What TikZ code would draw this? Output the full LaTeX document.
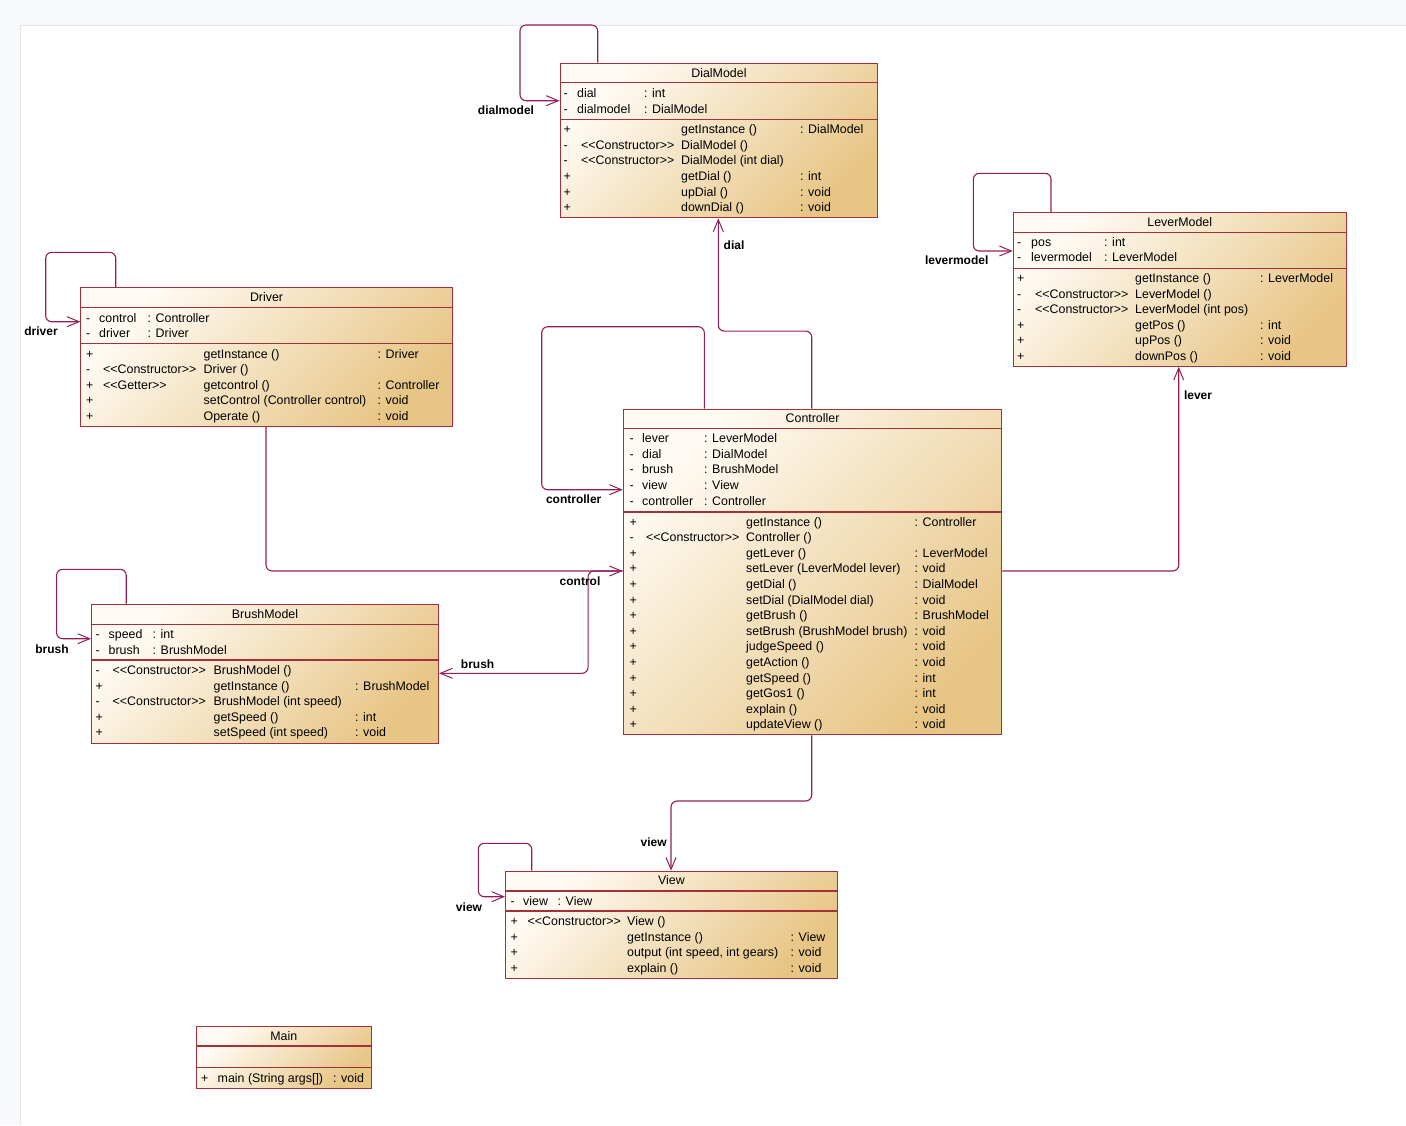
\documentclass[tikz,border=0pt]{standalone}
\usepackage{fontspec}
\newfontfamily\umlfont{Liberation Sans}
\usepackage{tikz}
\usetikzlibrary{arrows.meta}
\definecolor{pagebg}{HTML}{F7F9FC}
\definecolor{umlLight}{HTML}{FFFBF4}
\definecolor{umlDark}{HTML}{E7C585}
\definecolor{umlborder}{HTML}{A5303A}
\definecolor{connred}{HTML}{921F58}

\begin{document}
\begin{tikzpicture}[x=1pt, y=-1pt,
    umlclass/.style={draw=umlborder, line width=1.1pt, left color=umlLight, right color=umlDark, shading angle=45, anchor=north west, inner sep=0pt},
    umlsep/.style={draw=umlborder, line width=1.1pt},
    umltxt/.style={anchor=west, inner sep=0pt, text height=8.8pt, text depth=0pt, font=\umlfont\fontsize{12.4}{14}\selectfont},
    umltitle/.style={umltxt, anchor=center},
    conn/.style={draw=connred, line width=1.1pt, rounded corners=6pt},
    navarrow/.style={-{Straight Barb[length=12pt,width=10pt,line width=1pt]}},
    rolelbl/.style={inner sep=0pt, font=\umlfont\bfseries\fontsize{12}{14}\selectfont}]

    \useasboundingbox (0,0) rectangle (1406,1125);
    \fill[pagebg] (0,0) rectangle (1406,1125);
    \fill[white] (20,25) rectangle (1406,1125);
    \draw[black!10] (20,1125) -- (20,25) -- (1406,25);

    % classes
    \node[umlclass, minimum width=317.8pt, minimum height=154.6pt] (dial) at (559.5,62.7) {};
    \node[umlclass, minimum width=333pt, minimum height=153.7pt] (lever) at (1012.7,212) {};
    \node[umlclass, minimum width=371.4pt, minimum height=138.7pt] (driver) at (80.3,287.3) {};
    \node[umlclass, minimum width=378.6pt, minimum height=325.6pt] (ctrl) at (622.7,408.7) {};
    \node[umlclass, minimum width=347pt, minimum height=139pt] (brush) at (91,603.7) {};
    \node[umlclass, minimum width=331.7pt, minimum height=107.3pt] (view) at (505,870.7) {};
    \node[umlclass, minimum width=175pt, minimum height=62pt] (mainc) at (195.7,1025.7) {};

    % compartments
    \foreach \c/\ya/\yb in {dial/82.7/119.3, lever/232.3/268.3, driver/307.3/343.3, ctrl/428.7/512, brush/624.3/660, view/891/911, mainc/1046/1067.3}{
        \draw[umlsep] (\c.west |- 0,\ya) -- (\c.east |- 0,\ya);
        \draw[umlsep] (\c.west |- 0,\yb) -- (\c.east |- 0,\yb);
    }

    % titles
    \node[umltitle] (dial-t) at (dial.north |- 0,72.7) {DialModel};
    \node[umltitle] (lever-t) at (lever.north |- 0,222) {LeverModel};
    \node[umltitle] (driver-t) at (driver.north |- 0,297.3) {Driver};
    \node[umltitle] (ctrl-t) at (ctrl.north |- 0,418.5) {Controller};
    \node[umltitle] (brush-t) at (brush.north |- 0,613.7) {BrushModel};
    \node[umltitle] (view-t) at (view.north |- 0,880.3) {View};
    \node[umltitle] (mainc-t) at (mainc.north |- 0,1036) {Main};

    % DialModel
    \foreach \vis/\attr/\typ [count=\i from 0] in {-/dial/: int, -/dialmodel/: DialModel}{
        \node[umltxt] (dial-a\i-v) at (563.5,{93+15.6*\i}) {\vis};
        \node[umltxt] (dial-a\i-n) at (577,{93+15.6*\i}) {\attr};
        \node[umltxt] (dial-a\i-t) at (644,{93+15.6*\i}) {\typ};
    }
    \foreach \vis/\ster/\meth/\ret [count=\i from 0] in {
        +//getInstance ()/: DialModel,
        -/<<Constructor>>/DialModel ()/,
        -/<<Constructor>>/DialModel (int dial)/,
        +//getDial ()/: int,
        +//upDial ()/: void,
        +//downDial ()/: void}{
        \node[umltxt] (dial-m\i-v) at (563.5,{129.3+15.6*\i}) {\vis};
        \node[umltxt] (dial-m\i-s) at (581,{129.3+15.6*\i}) {\ster};
        \node[umltxt] (dial-m\i-n) at (681,{129.3+15.6*\i}) {\meth};
        \node[umltxt] (dial-m\i-r) at (800,{129.3+15.6*\i}) {\ret};
    }

    % LeverModel
    \foreach \vis/\attr/\typ [count=\i from 0] in {-/pos/: int, -/levermodel/: LeverModel}{
        \node[umltxt] (lever-a\i-v) at (1017,{241.7+15.6*\i}) {\vis};
        \node[umltxt] (lever-a\i-n) at (1031,{241.7+15.6*\i}) {\attr};
        \node[umltxt] (lever-a\i-t) at (1104,{241.7+15.6*\i}) {\typ};
    }
    \foreach \vis/\ster/\meth/\ret [count=\i from 0] in {
        +//getInstance ()/: LeverModel,
        -/<<Constructor>>/LeverModel ()/,
        -/<<Constructor>>/LeverModel (int pos)/,
        +//getPos ()/: int,
        +//upPos ()/: void,
        +//downPos ()/: void}{
        \node[umltxt] (lever-m\i-v) at (1017,{278+15.6*\i}) {\vis};
        \node[umltxt] (lever-m\i-s) at (1035,{278+15.6*\i}) {\ster};
        \node[umltxt] (lever-m\i-n) at (1135,{278+15.6*\i}) {\meth};
        \node[umltxt] (lever-m\i-r) at (1260,{278+15.6*\i}) {\ret};
    }

    % Driver
    \foreach \vis/\attr/\typ [count=\i from 0] in {-/control/: Controller, -/driver/: Driver}{
        \node[umltxt] (driver-a\i-v) at (86,{317.7+15.6*\i}) {\vis};
        \node[umltxt] (driver-a\i-n) at (99,{317.7+15.6*\i}) {\attr};
        \node[umltxt] (driver-a\i-t) at (147.5,{317.7+15.6*\i}) {\typ};
    }
    \foreach \vis/\ster/\meth/\ret [count=\i from 0] in {
        +//getInstance ()/: Driver,
        -/<<Constructor>>/Driver ()/,
        +/<<Getter>>/getcontrol ()/: Controller,
        +//setControl (Controller control)/: void,
        +//Operate ()/: void}{
        \node[umltxt] (driver-m\i-v) at (86,{353.7+15.6*\i}) {\vis};
        \node[umltxt] (driver-m\i-s) at (103,{353.7+15.6*\i}) {\ster};
        \node[umltxt] (driver-m\i-n) at (203.5,{353.7+15.6*\i}) {\meth};
        \node[umltxt] (driver-m\i-r) at (377.5,{353.7+15.6*\i}) {\ret};
    }

    % Controller
    \foreach \vis/\attr/\typ [count=\i from 0] in {-/lever/: LeverModel, -/dial/: DialModel, -/brush/: BrushModel, -/view/: View, -/controller/: Controller}{
        \node[umltxt] (ctrl-a\i-v) at (629.5,{438.3+15.6*\i}) {\vis};
        \node[umltxt] (ctrl-a\i-n) at (642,{438.3+15.6*\i}) {\attr};
        \node[umltxt] (ctrl-a\i-t) at (704,{438.3+15.6*\i}) {\typ};
    }
    \foreach \vis/\ster/\meth/\ret [count=\i from 0] in {
        +//getInstance ()/: Controller,
        -/<<Constructor>>/Controller ()/,
        +//getLever ()/: LeverModel,
        +//setLever (LeverModel lever)/: void,
        +//getDial ()/: DialModel,
        +//setDial (DialModel dial)/: void,
        +//getBrush ()/: BrushModel,
        +//setBrush (BrushModel brush)/: void,
        +//judgeSpeed ()/: void,
        +//getAction ()/: void,
        +//getSpeed ()/: int,
        +//getGos1 ()/: int,
        +//explain ()/: void,
        +//updateView ()/: void}{
        \node[umltxt] (ctrl-m\i-v) at (629.5,{521.7+15.6*\i}) {\vis};
        \node[umltxt] (ctrl-m\i-s) at (646,{521.7+15.6*\i}) {\ster};
        \node[umltxt] (ctrl-m\i-n) at (746,{521.7+15.6*\i}) {\meth};
        \node[umltxt] (ctrl-m\i-r) at (914.5,{521.7+15.6*\i}) {\ret};
    }

    % BrushModel
    \foreach \vis/\attr/\typ [count=\i from 0] in {-/speed/: int, -/brush/: BrushModel}{
        \node[umltxt] (brush-a\i-v) at (95.5,{634.3+15.6*\i}) {\vis};
        \node[umltxt] (brush-a\i-n) at (108.5,{634.3+15.6*\i}) {\attr};
        \node[umltxt] (brush-a\i-t) at (152.5,{634.3+15.6*\i}) {\typ};
    }
    \foreach \vis/\ster/\meth/\ret [count=\i from 0] in {
        -/<<Constructor>>/BrushModel ()/,
        +//getInstance ()/: BrushModel,
        -/<<Constructor>>/BrushModel (int speed)/,
        +//getSpeed ()/: int,
        +//setSpeed (int speed)/: void}{
        \node[umltxt] (brush-m\i-v) at (95.5,{670+15.6*\i}) {\vis};
        \node[umltxt] (brush-m\i-s) at (112.5,{670+15.6*\i}) {\ster};
        \node[umltxt] (brush-m\i-n) at (213.5,{670+15.6*\i}) {\meth};
        \node[umltxt] (brush-m\i-r) at (355,{670+15.6*\i}) {\ret};
    }

    % View
    \node[umltxt] (view-a0-v) at (510.5,900.7) {-};
    \node[umltxt] (view-a0-n) at (523,900.7) {view};
    \node[umltxt] (view-a0-t) at (557.5,900.7) {: View};
    \foreach \vis/\ster/\meth/\ret [count=\i from 0] in {
        +/<<Constructor>>/View ()/,
        +//getInstance ()/: View,
        +//{output (int speed, int gears)}/: void,
        +//explain ()/: void}{
        \node[umltxt] (view-m\i-v) at (510.5,{921+15.6*\i}) {\vis};
        \node[umltxt] (view-m\i-s) at (527.5,{921+15.6*\i}) {\ster};
        \node[umltxt] (view-m\i-n) at (627,{921+15.6*\i}) {\meth};
        \node[umltxt] (view-m\i-r) at (790.5,{921+15.6*\i}) {\ret};
    }

    % Main
    \node[umltxt] (mainc-m0-v) at (201,1077.7) {+};
    \node[umltxt] (mainc-m0-n) at (217.5,1077.7) {main (String args[])};
    \node[umltxt] (mainc-m0-r) at (333,1077.7) {: void};

    % self associations
    \draw[conn, navarrow] ([xshift=38.2pt]dial.north west) |- (520,25) |- ([yshift=-38pt]dial.north west);
    \draw[conn, navarrow] ([xshift=38.3pt]lever.north west) |- (973.3,173.3) |- ([yshift=-39pt]lever.north west);
    \draw[conn, navarrow] ([xshift=35.4pt]driver.north west) |- (45.7,252.3) |- ([yshift=-34.4pt]driver.north west);
    \draw[conn, navarrow] ([xshift=81.6pt]ctrl.north west) |- (541.7,326.7) |- ([yshift=-81pt]ctrl.north west);
    \draw[conn, navarrow] ([xshift=35.2pt]brush.north west) |- (56.6,569.3) |- ([yshift=-35pt]brush.north west);
    \draw[conn, navarrow] ([xshift=26.7pt]view.north west) |- (478.3,843.3) |- ([yshift=-26pt]view.north west);

    % associations
    \coordinate (dialin) at ([xshift=158.8pt]dial.south west);
    \coordinate (leverin) at ([xshift=166pt]lever.south west);
    \coordinate (ctrlout) at ([yshift=-162.3pt]ctrl.north east);
    \coordinate (ctrlin) at ([yshift=-162.3pt]ctrl.north west);
    \coordinate (drvout) at ([xshift=185.7pt]driver.south west);
    \coordinate (brushin) at ([yshift=-69.6pt]brush.north east);
    \coordinate (ctrlbot) at ([xshift=189pt]ctrl.south west);
    \coordinate (viewin) at ([xshift=166pt]view.north west);

    \draw[conn, navarrow] ([xshift=189pt]ctrl.north west) |- ([yshift=-112.7pt]dialin) -- (dialin);
    \draw[conn, navarrow] (ctrlout) -| (leverin);
    \draw[conn, navarrow] (drvout) |- (ctrlin);
    \draw[conn, navarrow] (ctrlin) -| ([xshift=149pt]brushin) -- (brushin);
    \draw[conn, navarrow] (ctrlbot) |- ([yshift=69.7pt]viewin) -- (viewin);

    % role names
    \node[rolelbl] (r-dialmodel) at (506,110.5) {dialmodel};
    \node[rolelbl] (r-levermodel) at (956.7,260) {levermodel};
    \node[rolelbl] (r-driver) at (41,331) {driver};
    \node[rolelbl] (r-controller) at (573.7,499) {controller};
    \node[rolelbl] (r-brushself) at (52,649) {brush};
    \node[rolelbl] (r-viewself) at (469,906.7) {view};
    \node[rolelbl] (r-dial) at (734,245) {dial};
    \node[rolelbl] (r-lever) at (1198,395.7) {lever};
    \node[rolelbl] (r-control) at (580,581) {control};
    \node[rolelbl] (r-brush) at (477.6,664.7) {brush};
    \node[rolelbl] (r-view) at (653.7,842.5) {view};
\end{tikzpicture}
\end{document}
